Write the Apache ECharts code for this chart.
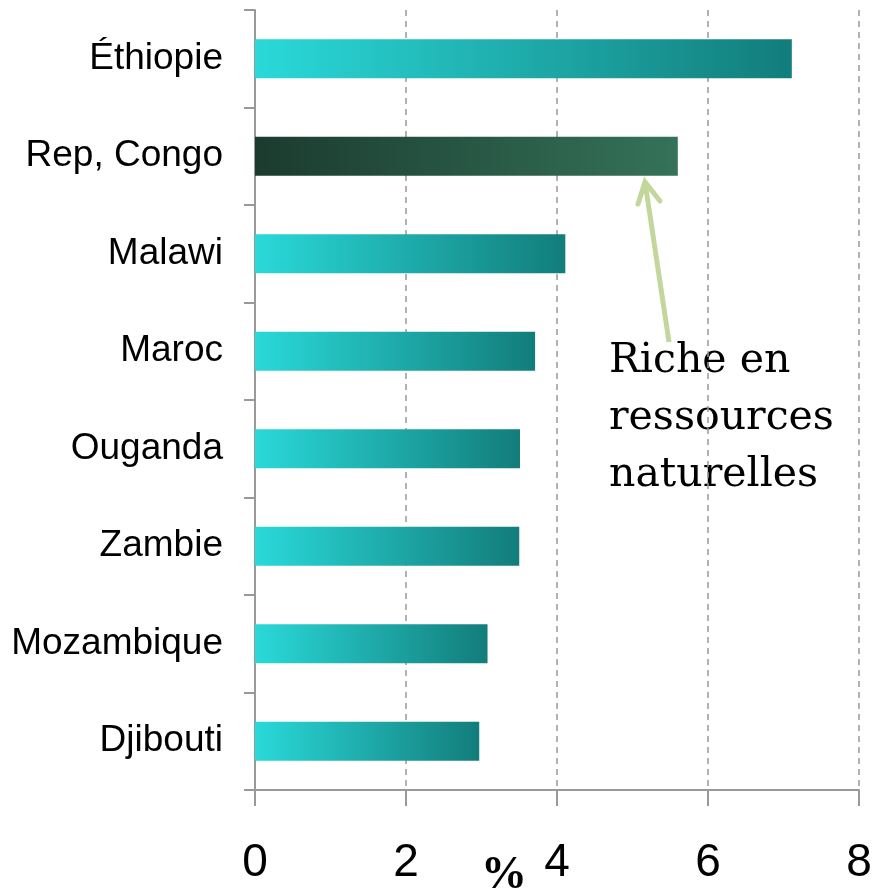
<!DOCTYPE html>
<html>
<head>
<meta charset="utf-8">
<script src="https://cdn.jsdelivr.net/npm/echarts@6/dist/echarts.min.js"></script>
<style>html,body{margin:0;padding:0;background:#fff;}#c{width:875px;height:892px;}</style>
</head>
<body>
<div id="c"></div>
<script>
var categories = ['Éthiopie', 'Rep, Congo', 'Malawi', 'Maroc', 'Ouganda', 'Zambie', 'Mozambique', 'Djibouti'];
var values = [7.11, 5.60, 4.11, 3.71, 3.51, 3.50, 3.08, 2.97];
var highlighted = ['Rep, Congo'];
var xTicks = [0, 2, 4, 6, 8];
var annotationLines = ['Riche en', 'ressources', 'naturelles'];
var unitLabel = '%';

var tealGrad = new echarts.graphic.LinearGradient(0, 0, 1, 0, [
  {offset: 0, color: '#2ad9d9'}, {offset: 1, color: '#127d7b'}
]);
var greenGrad = new echarts.graphic.LinearGradient(0, 0, 1, 0, [
  {offset: 0, color: '#1b3b2f'}, {offset: 1, color: '#357259'}
]);

var chart = echarts.init(document.getElementById('c'));
chart.setOption({
  animation: false,
  backgroundColor: '#ffffff',
  grid: {left: 255, top: 10, right: 16, bottom: 102, containLabel: false},
  xAxis: {
    type: 'value', min: xTicks[0], max: xTicks[xTicks.length - 1], interval: 2,
    axisLine: {show: true, lineStyle: {color: '#999', width: 2}},
    axisTick: {show: true, length: 16, lineStyle: {color: '#999', width: 2}},
    axisLabel: {fontSize: 46, color: '#000', fontFamily: 'Liberation Sans, Arial', margin: 50},
    splitLine: {show: true, lineStyle: {color: '#999', type: [6, 5], width: 1.5}}
  },
  yAxis: {
    type: 'category', inverse: true, data: categories,
    axisLine: {show: true, lineStyle: {color: '#999', width: 2}},
    axisTick: {show: true, length: 11, lineStyle: {color: '#999', width: 2}},
    axisLabel: {fontSize: 37, color: '#000', fontFamily: 'Liberation Sans, Arial', margin: 32, padding: [12, 0, 0, 0]},
    splitLine: {show: false}
  },
  series: [{
    type: 'bar', barWidth: 39,
    data: categories.map(function (c, i) {
      return {value: values[i], itemStyle: {color: highlighted.indexOf(c) >= 0 ? greenGrad : tealGrad}};
    })
  }],
  graphic: [
    {type: 'text', left: 609, top: 333, style: {text: annotationLines.join('\n'), font: '41px "DejaVu Serif"', fill: '#000', lineHeight: 57}},
    {type: 'polyline', shape: {points: [[669, 342], [645, 182]]}, style: {stroke: '#c3d69b', lineWidth: 5}},
    {type: 'polyline', shape: {points: [[638, 204], [645, 182], [660, 201]]}, style: {stroke: '#c3d69b', lineWidth: 5, fill: null, lineCap: 'round', lineJoin: 'miter'}},
    {type: 'text', left: 481, top: 853, style: {text: unitLabel, font: 'bold 46px "Liberation Serif"', fill: '#000'}}
  ]
});
</script>
</body>
</html>
